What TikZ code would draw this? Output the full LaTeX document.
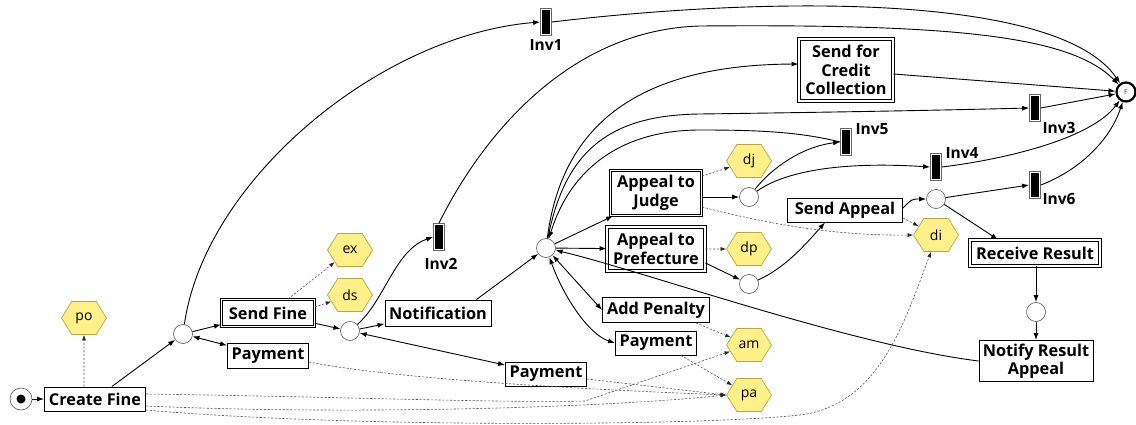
\documentclass[tikz,border=0pt]{standalone}
\usepackage{fontspec}
\setmainfont{Open Sans}
\usetikzlibrary{arrows.meta,shapes.symbols,calc}
\definecolor{hexfill}{HTML}{FFF08A}
\definecolor{hexdraw}{HTML}{B8A640}
\definecolor{placedraw}{HTML}{555555}
\definecolor{dashcol}{HTML}{555555}
\definecolor{fblue}{HTML}{1F3FA0}
\tikzset{
  box/.style={draw=black, line width=0.9pt, fill=white, inner sep=1pt, align=center,
    font=\fontsize{16.3}{18.5}\selectfont\bfseries},
  dbox/.style={box, double=white, double distance=1.4pt},
  hex/.style={shape=signal, signal to=east and west, signal pointer angle=116,
    draw=hexdraw, fill=hexfill, line width=0.7pt, minimum width=45pt, minimum height=33pt,
    inner sep=0pt, font=\fontsize{14}{16}\selectfont},
  place/.style={circle, draw=placedraw, line width=0.6pt, fill=white, minimum size=19pt, inner sep=0pt},
  trans/.style={draw=black!60, line width=0.7pt, fill=white, minimum width=11pt, minimum height=27pt,
    inner sep=0pt, path picture={\fill[black] ([shift={(1.8pt,1.8pt)}]path picture bounding box.south west)
      rectangle ([shift={(-1.8pt,-1.8pt)}]path picture bounding box.north east);}},
  lbl/.style={font=\fontsize{15.5}{17}\selectfont\bfseries, inner sep=0pt},
  arc/.style={line width=0.9pt, -{Latex[length=7pt,width=5pt]}},
  biarc/.style={line width=0.9pt, {Latex[length=7pt,width=5pt]}-{Latex[length=7pt,width=5pt]}},
  darc/.style={draw=dashcol, line width=0.6pt, dash pattern=on 2.2pt off 1.6pt,
    -{Latex[length=5.5pt,width=4pt,color=black!85]}}
}
\begin{document}
\begin{tikzpicture}[x=1pt,y=-1pt]
\useasboundingbox (0,0) rectangle (1136,425);
% places
\node[place, minimum size=22pt] (start) at (21,399) {};
\fill[black] (start) circle (4.5pt);
\node[place] (p1) at (183,334) {};
\node[place] (p2) at (350,331) {};
\node[place] (p3) at (546,248) {};
\node[place] (pj) at (749,197) {};
\node[place] (pp) at (749,284) {};
\node[place] (psa) at (936,199) {};
\node[place] (pr) at (1036,312) {};
\node[circle, draw=black, line width=2.2pt, fill=white, minimum size=19pt, inner sep=0pt,
  font=\fontsize{7}{8}\selectfont, text=fblue] (F) at (1126,92) {F};
% activities
\node[box, minimum width=101pt, minimum height=24pt] (cf) at (95,399) {Create Fine};
\node[dbox, minimum width=93pt, minimum height=27pt] (sf) at (268,313) {Send Fine};
\node[box, minimum width=81pt, minimum height=25pt] (pay1) at (268,356) {Payment};
\node[box, minimum width=106pt, minimum height=26pt] (notif) at (438,313) {Notification};
\node[box, minimum width=81pt, minimum height=24pt] (pay2) at (546,374) {Payment};
\node[dbox, minimum width=91pt, minimum height=45pt] (judge) at (656,193) {Appeal to\\Judge};
\node[dbox, minimum width=98pt, minimum height=44pt] (pref) at (656,249) {Appeal to\\Prefecture};
\node[box, minimum width=107pt, minimum height=25pt] (addpen) at (656,310) {Add Penalty};
\node[box, minimum width=81pt, minimum height=24pt] (pay3) at (656,343) {Payment};
\node[box, minimum width=115pt, minimum height=24pt] (sa) at (845,210) {Send Appeal};
\node[dbox, minimum width=130pt, minimum height=26pt] (recv) at (1035,253) {Receive Result};
\node[box, minimum width=114pt, minimum height=41pt] (notify) at (1036,361) {Notify Result\\Appeal};
\node[dbox, minimum width=94pt, minimum height=62pt] (sfcc) at (846,70) {Send for\\Credit\\Collection};
% data hexagons
\node[hex] (po) at (84,318) {po};
\node[hex] (ex) at (350,250) {ex};
\node[hex] (ds) at (350,295) {ds};
\node[hex] (dj) at (749,161) {dj};
\node[hex] (dp) at (749,249) {dp};
\node[hex] (am) at (749,345) {am};
\node[hex] (pa) at (749,395) {pa};
\node[hex] (di) at (936,235) {di};
% invisible transitions
\node[trans] (inv1) at (546,22) {};
\node[trans] (inv2) at (439,237) {};
\node[trans] (inv3) at (1035,108) {};
\node[trans] (inv5) at (846,142) {};
\node[trans] (inv4) at (936,167) {};
\node[trans] (inv6) at (1035,185) {};
\node[lbl] (l1) at (546,45) {Inv1};
\node[lbl] (l2) at (441,264) {Inv2};
\node[lbl] (l3) at (1059,128) {Inv3};
\node[lbl] (l5) at (872,129) {Inv5};
\node[lbl] (l4) at (962,153) {Inv4};
\node[lbl] (l6) at (1059,199) {Inv6};
% solid arcs
\draw[arc] (start) -- (cf);
\draw[arc] (cf) -- (p1);
\draw[arc] (p1) -- (sf);
\draw[biarc] (p1) -- (pay1);
\draw[arc] (p1) .. controls (205,180) and (380,35) .. (inv1.west);
\draw[arc] (inv1.east) .. controls (780,-5) and (1060,-5) .. (F);
\draw[arc] (inv2.north) .. controls (475,150) and (560,30) .. (700,26) .. controls (950,24) and (1070,35) .. (F);
\draw[arc] (sf) -- (p2);
\draw[arc] (p2) .. controls (385,300) and (395,250) .. (inv2.west);
\draw[arc] (p2) -- (notif);
\draw[biarc] (p2) -- (pay2);
\draw[arc] ([xshift=-15pt]notif.north east) -- (p3);
\draw[arc] (p3) -- ([xshift=3pt]judge.south west);
\draw[arc] (p3) -- (pref);
\draw[biarc] (p3) -- (addpen.west);
\draw[biarc] (p3) .. controls (565,300) and (590,335) .. (pay3.west);
\draw[arc] (notify.west) .. controls (850,345) and (640,270) .. (p3);
\draw[arc] (p3) .. controls (560,140) and (620,65) .. ([yshift=6pt]sfcc.west);
\draw[arc] (p3) .. controls (565,150) and (610,115) .. (700,114) .. controls (850,112) and (950,110) .. (inv3.west);
\draw[arc] (inv5.west) .. controls (800,132) and (760,130) .. (700,130) .. controls (620,130) and (570,170) .. (p3);
\draw[arc] ([yshift=-4pt]sfcc.east) -- (F);
\draw[arc] (inv3.east) -- (F);
\draw[arc] (pj) .. controls (770,170) and (800,147) .. (inv5.west);
\draw[arc] (pj) .. controls (775,178) and (820,160) .. (inv4.west);
\draw[arc] (inv4.east) .. controls (1000,160) and (1090,140) .. (F);
\draw[arc] (inv6.east) .. controls (1080,170) and (1110,140) .. (F);
\draw[arc] (judge.east |- pj) -- (pj);
\draw[arc] ([yshift=-14pt]pref.east) -- (pp);
\draw[arc] (pp) .. controls (785,268) and (805,245) .. ([xshift=-20pt]sa.south);
\draw[arc] ([yshift=2pt]sa.east) .. controls (912,199) .. (psa);
\draw[arc] (psa) -- (inv6.west);
\draw[arc] (psa) -- ([xshift=-37pt]recv.north);
\draw[arc] (recv.south -| pr) -- (pr);
\draw[arc] (pr) -- (notify.north -| pr);
% dashed data arcs
\draw[darc] (cf.north -| po) -- (po);
\draw[darc] ([xshift=20pt]sf.north) -- (ex);
\draw[darc] ([yshift=6pt]sf.east) -- (ds);
\draw[darc] ([yshift=17pt]judge.east) -- (dj);
\draw[darc] ([yshift=-14pt]judge.east) .. controls (760,222) and (830,236) .. (di.west);
\draw[darc] (pref) -- (dp);
\draw[darc] ([yshift=-8pt]sa.east) -- (di);
\draw[darc] ([xshift=-14pt]addpen.south east) -- (am);
\draw[darc] ([xshift=-16pt]pay3.south east) -- (pa);
\draw[darc] ([yshift=-5pt]pay2.east) -- (pa.west);
\draw[darc] ([yshift=-6pt]pay1.east) .. controls (400,380) and (600,390) .. (pa.west);
\draw[darc] ([yshift=5pt]cf.east) .. controls (350,397) and (500,403) .. (585,401) -- (am);
\draw[darc] ([yshift=-7pt]cf.east) .. controls (350,415) and (600,408) .. (pa.west);
\draw[darc] ([yshift=-11pt]cf.east) .. controls (350,428) and (700,426) .. (800,415) .. controls (880,405) and (905,320) .. ([xshift=-5pt]di.south);
\end{tikzpicture}
\end{document}
